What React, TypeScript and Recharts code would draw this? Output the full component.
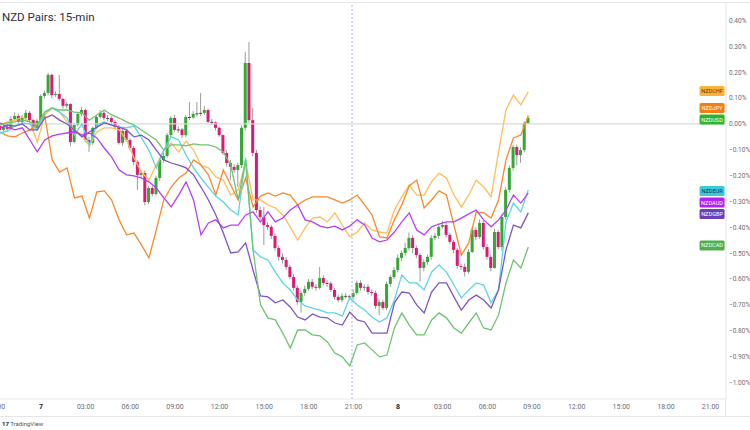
import React from 'react'
import {
  ComposedChart,
  Bar,
  Line,
  XAxis,
  YAxis,
  ReferenceLine,
  ReferenceDot
} from 'recharts'

// NZDUSD main series, % change, 15-min bars 21:15 (6th) .. 08:45 (8th)
const usdFirstOpen = -0.008
const usdClose = [
  -0.023, -0.012, -0.019, 0.019, 0.031, 0.008, 0.023, 0.043, 0.015, -0.015,
  0.012, 0.108, 0.12, 0.19, 0.112, 0.116, 0.097, 0.07, 0.077, -0.07,
  -0.004, 0.039, 0.054, -0.062, -0.073, -0.015, 0.027, 0.043, 0.023, 0.023,
  0.008, -0.012, -0.073, -0.027, -0.062, -0.093, -0.147, -0.197, -0.19, -0.302,
  -0.248, -0.271, -0.209, -0.139, -0.124, -0.043, 0.023, -0.023, -0.021, -0.043,
  0.027, 0.025, 0.039, 0.041, 0.043, 0.054, 0.008, 0.006, -0.015, -0.043,
  -0.112, -0.151, -0.166, -0.178, -0.159, -0.015, 0.236, 0.015, -0.112, -0.333,
  -0.36, -0.391, -0.398, -0.433, -0.48, -0.514, -0.526, -0.553, -0.592, -0.634,
  -0.689, -0.654, -0.638, -0.611, -0.63, -0.634, -0.596, -0.615, -0.617, -0.642,
  -0.669, -0.681, -0.665, -0.667, -0.669, -0.654, -0.615, -0.634, -0.63, -0.65,
  -0.654, -0.704, -0.689, -0.712, -0.619, -0.592, -0.565, -0.518, -0.499, -0.48,
  -0.441, -0.48, -0.507, -0.557, -0.534, -0.514, -0.441, -0.433, -0.398, -0.391,
  -0.429, -0.456, -0.487, -0.549, -0.553, -0.572, -0.495, -0.41, -0.437, -0.383,
  -0.476, -0.514, -0.557, -0.418, -0.476, -0.36, -0.255, -0.17, -0.089, -0.12,
  -0.101, 0.004, 0.023
]
const usdHigh = [
  0, 0, 0, 0.03, 0.045, 0.04, 0.035, 0.055, 0.05, 0.02,
  0.02, 0.115, 0.13, 0.198, 0.195, 0.125, 0.19, 0.1, 0.085, 0.08,
  0.005, 0.045, 0.065, 0.06, -0.05, -0.01, 0.035, 0.054, 0.05, 0.035,
  0.03, 0.015, -0.005, -0.02, -0.02, -0.055, -0.085, -0.14, -0.18, -0.18,
  -0.24, -0.24, -0.2, -0.13, -0.11, -0.035, 0.03, 0.035, -0.01, -0.015,
  0.035, 0.085, 0.05, 0.085, 0.12, 0.07, 0.06, 0.02, 0.01, -0.01,
  -0.04, -0.1, -0.14, -0.155, -0.15, -0.005, 0.278, 0.317, 0.062, -0.1,
  -0.32, -0.321, -0.38, -0.39, -0.425, -0.47, -0.5, -0.515, -0.545, -0.58,
  -0.625, -0.645, -0.625, -0.6, -0.6, -0.62, -0.553, -0.585, -0.605, -0.61,
  -0.635, -0.66, -0.655, -0.655, -0.66, -0.64, -0.605, -0.605, -0.62, -0.62,
  -0.64, -0.645, -0.68, -0.68, -0.61, -0.585, -0.555, -0.505, -0.49, -0.46,
  -0.42, -0.43, -0.47, -0.5, -0.525, -0.505, -0.43, -0.42, -0.385, -0.375,
  -0.38, -0.42, -0.45, -0.48, -0.54, -0.54, -0.485, -0.4, -0.4, -0.37,
  -0.375, -0.465, -0.505, -0.405, -0.41, -0.35, -0.245, -0.16, -0.08, -0.08,
  -0.09, 0.01, 0.035
]
const usdLow = [
  -0.035, -0.03, -0.03, -0.025, 0.01, 0, 0, 0.015, 0.005, -0.03,
  -0.025, 0.005, 0.1, 0.11, 0.1, 0.105, 0.09, 0.06, 0.06, -0.085,
  -0.075, -0.01, 0.03, -0.07, -0.108, -0.08, -0.02, 0.02, 0.015, 0.01,
  0, -0.02, -0.08, -0.085, -0.07, -0.1, -0.16, -0.255, -0.21, -0.315,
  -0.31, -0.28, -0.28, -0.22, -0.15, -0.13, -0.05, -0.03, -0.035, -0.055,
  -0.05, 0.015, 0.02, 0.03, 0.03, 0.035, 0, -0.005, -0.025, -0.05,
  -0.12, -0.165, -0.217, -0.19, -0.244, -0.17, -0.025, 0.005, -0.125, -0.345,
  -0.37, -0.468, -0.41, -0.445, -0.49, -0.53, -0.54, -0.565, -0.6, -0.645,
  -0.7, -0.73, -0.665, -0.645, -0.64, -0.645, -0.64, -0.625, -0.63, -0.65,
  -0.68, -0.69, -0.69, -0.675, -0.68, -0.68, -0.66, -0.645, -0.645, -0.66,
  -0.665, -0.715, -0.74, -0.72, -0.72, -0.63, -0.6, -0.575, -0.53, -0.51,
  -0.49, -0.5, -0.52, -0.61, -0.57, -0.545, -0.525, -0.45, -0.445, -0.405,
  -0.44, -0.465, -0.5, -0.56, -0.565, -0.59, -0.58, -0.5, -0.45, -0.445,
  -0.485, -0.525, -0.57, -0.56, -0.485, -0.49, -0.37, -0.265, -0.18, -0.16,
  -0.15, -0.11, 0
]

// compare symbols, read every second bar (30 min)
const nzdchf = [
  -0.004, 0.008, 0.015, 0.027, 0.008, -0.07, 0.035, 0.062, 0.046, 0.008,
  -0.023, -0.043, -0.085, -0.031, -0.015, -0.015, -0.023, -0.062, -0.132, -0.186,
  -0.217, -0.159, -0.101, -0.073, -0.108, -0.066, -0.101, -0.159, -0.17, -0.205,
  -0.217, -0.275, -0.255, -0.147, -0.294, -0.294, -0.313, -0.325, -0.352, -0.398,
  -0.449, -0.402, -0.364, -0.36, -0.379, -0.344, -0.391, -0.437, -0.418, -0.383,
  -0.41, -0.418, -0.422, -0.333, -0.282, -0.236, -0.275, -0.275, -0.224, -0.19,
  -0.209, -0.275, -0.321, -0.275, -0.217, -0.244, -0.282, -0.108, 0.054, 0.112,
  0.074, 0.124
]
const nzdjpy = [
  -0.031, -0.046, -0.05, -0.035, -0.023, -0.004, 0.031, -0.139, -0.186, -0.17,
  -0.286, -0.279, -0.364, -0.263, -0.259, -0.294, -0.371, -0.429, -0.422, -0.468,
  -0.518, -0.41, -0.294, -0.244, -0.209, -0.19, -0.139, -0.159, -0.197, -0.275,
  -0.178, -0.236, -0.294, -0.209, -0.321, -0.279, -0.267, -0.279, -0.267, -0.275,
  -0.313, -0.294, -0.282, -0.282, -0.282, -0.294, -0.306, -0.294, -0.275, -0.313,
  -0.352, -0.437, -0.441, -0.371, -0.313, -0.24, -0.217, -0.325, -0.294, -0.259,
  -0.275, -0.391, -0.507, -0.46, -0.34, -0.344, -0.364, -0.294, -0.139, -0.054,
  -0.043, 0.03
]
const nzdeur = [
  -0.035, -0.027, -0.008, 0.004, 0, -0.023, 0.046, 0.062, 0.046, 0.023,
  -0.043, 0, -0.081, -0.004, 0.008, -0.004, -0.012, -0.015, -0.008, -0.054,
  -0.101, -0.17, -0.101, -0.05, -0.062, -0.12, -0.17, -0.209, -0.244, -0.279,
  -0.302, -0.333, -0.352, -0.132, -0.487, -0.514, -0.526, -0.573, -0.615, -0.642,
  -0.681, -0.704, -0.712, -0.72, -0.731, -0.731, -0.743, -0.673, -0.7, -0.72,
  -0.747, -0.766, -0.75, -0.681, -0.584, -0.615, -0.615, -0.642, -0.573, -0.545,
  -0.573, -0.623, -0.673, -0.642, -0.615, -0.623, -0.692, -0.642, -0.379, -0.306,
  -0.34, -0.255
]
const nzdaud = [
  0.004, -0.012, -0.023, -0.015, -0.062, -0.108, -0.062, -0.046, -0.039, -0.035,
  -0.031, -0.043, -0.035, -0.054, -0.093, -0.128, -0.178, -0.197, -0.201, -0.209,
  -0.224, -0.248, -0.286, -0.321, -0.275, -0.224, -0.294, -0.429, -0.383, -0.371,
  -0.402, -0.391, -0.391, -0.352, -0.34, -0.379, -0.34, -0.379, -0.364, -0.333,
  -0.313, -0.371, -0.379, -0.395, -0.402, -0.395, -0.41, -0.395, -0.371, -0.391,
  -0.441, -0.456, -0.449, -0.418, -0.379, -0.344, -0.41, -0.429, -0.398, -0.387,
  -0.379, -0.379, -0.364, -0.348, -0.333, -0.371, -0.398, -0.371, -0.333, -0.275,
  -0.306, -0.267
]
const nzdgbp = [
  -0.015, -0.004, -0.008, 0, -0.023, -0.023, 0.023, 0.035, 0.015, 0,
  -0.023, -0.05, -0.031, -0.012, 0.004, -0.004, -0.012, -0.023, -0.05, -0.043,
  -0.062, -0.101, -0.139, -0.151, -0.159, -0.17, -0.197, -0.244, -0.294, -0.352,
  -0.422, -0.499, -0.495, -0.46, -0.565, -0.665, -0.669, -0.692, -0.681, -0.708,
  -0.747, -0.758, -0.735, -0.747, -0.75, -0.77, -0.778, -0.728, -0.758, -0.766,
  -0.809, -0.809, -0.809, -0.692, -0.65, -0.654, -0.7, -0.731, -0.65, -0.615,
  -0.615, -0.669, -0.72, -0.681, -0.662, -0.681, -0.712, -0.642, -0.487, -0.391,
  -0.402, -0.344
]
const nzdcad = [
  -0.004, 0.004, 0.008, 0.015, 0.008, -0.004, 0.046, 0.062, 0.054, 0.054,
  0.046, 0.043, 0.015, 0.035, 0.054, 0.035, 0.023, 0.008, -0.004, -0.023,
  -0.043, -0.062, -0.101, -0.081, -0.081, -0.085, -0.077, -0.081, -0.081, -0.089,
  -0.108, -0.159, -0.294, -0.139, -0.487, -0.7, -0.75, -0.758, -0.809, -0.867,
  -0.797, -0.797, -0.816, -0.82, -0.843, -0.886, -0.901, -0.936, -0.855, -0.847,
  -0.874, -0.901, -0.894, -0.789, -0.731, -0.778, -0.816, -0.816, -0.758, -0.731,
  -0.75, -0.789, -0.809, -0.77, -0.731, -0.789, -0.797, -0.739, -0.615, -0.526,
  -0.557, -0.476
]

const xTicks = [-1, 11, 23, 35, 47, 59, 71, 83, 95, 107, 119, 131, 143, 155, 167, 179, 191]
const xTickLabels = ['21:00', '7', '03:00', '06:00', '09:00', '12:00', '15:00', '18:00', '21:00',
  '8', '03:00', '06:00', '09:00', '12:00', '15:00', '18:00', '21:00']
const yTicks = [0.4, 0.3, 0.2, 0.1, 0, -0.1, -0.2, -0.3, -0.4, -0.5, -0.6, -0.7, -0.8, -0.9, -1.0]

const tagNames = ['NZDCHF', 'NZDJPY', 'NZDUSD', 'NZDEUR', 'NZDAUD', 'NZDGBP', 'NZDCAD']
const tagValues = [0.128, 0.062, 0.017, -0.259, -0.304, -0.348, -0.47]

const seriesKeys = ['chf', 'jpy', 'eur', 'aud', 'gbp', 'cad']
const seriesData = [nzdchf, nzdjpy, nzdeur, nzdaud, nzdgbp, nzdcad]
const lineColors = ['#ffbd59', '#f7892b', '#5dd3e3', '#b53ff2', '#7d55c4', '#6fc46f']
const tagColors = ['#fbb23a', '#f57d12', '#2cb52c', '#3fc8d9', '#b022f0', '#6a40b8', '#4caf50']
const tagText = ['#5a3b00', '#ffffff', '#ffffff', '#06383f', '#ffffff', '#ffffff', '#ffffff']

const data = usdClose.map((c, i) => {
  const row: any = {
    i,
    o: i === 0 ? usdFirstOpen : usdClose[i - 1],
    c,
    h: usdHigh[i],
    l: usdLow[i]
  }
  seriesKeys.forEach((k, s) => {
    row[k] = i % 2 === 0 ? seriesData[s][i / 2] : null
  })
  return row
})

const fmtPct = (v: number) => (v < 0 ? '\u2212' : '') + Math.abs(v).toFixed(2) + '%'

const Candle = (props: any) => {
  const { x, y, width, height, payload } = props
  if (!payload || x == null) return null
  const { o, c, h, l } = payload
  const cx = x + width / 2
  const top = Math.min(y, y + height)
  const span = Math.abs(height)
  const k = h > l ? span / (h - l) : 0
  const py = (v: number) => top + (h - v) * k
  const bodyTop = py(Math.max(o, c))
  const bodyH = Math.max(1, py(Math.min(o, c)) - bodyTop)
  const doji = Math.abs(c - o) < 0.004
  const color = doji ? '#4a4a4a' : c >= o ? '#33a833' : '#dc1a73'
  return (
    <g>
      <line x1={cx} x2={cx} y1={top} y2={top + span} stroke="#9b9b9b" strokeWidth={1} />
      <rect x={cx - 1.5} y={bodyTop} width={3} height={bodyH} fill={color} />
    </g>
  )
}

const XTick = (props: any) => {
  const { x, y, index } = props
  const label = xTickLabels[index]
  const day = label.length === 1
  return (
    <text x={x} y={y} dy={5} textAnchor="middle" fontSize={7} fontFamily="Roboto, sans-serif"
      fill={day ? '#222' : '#6a6d78'} fontWeight={day ? 700 : 400}>
      {label}
    </text>
  )
}

const Tag = (idx: number) => (props: any) => {
  const { cx, cy } = props
  if (cx == null) return null
  return (
    <g>
      <rect x={cx - 12.5} y={cy - 5} width={25} height={10} rx={1.5} fill={tagColors[idx]} />
      <text x={cx} y={cy + 2} textAnchor="middle" fontSize={5.6} fontFamily="Roboto, sans-serif"
        fill={tagText[idx]}>
        {tagNames[idx]}
      </text>
    </g>
  )
}

export default function App() {
  return (
    <div style={{ position: 'absolute', left: 0, top: 0, width: 750, height: 430, background: '#fff' }}>
      <ComposedChart width={750} height={430} data={data}
        margin={{ top: 3, right: 0, left: 0, bottom: 0 }}>
        <XAxis dataKey="i" type="number" domain={[-0.03, 195.15]} allowDataOverflow
          ticks={xTicks} interval={0} tick={<XTick />} tickLine={false} tickSize={0} tickMargin={5}
          height={31} axisLine={{ stroke: '#e3e5ea' }} />
        <YAxis orientation="right" type="number" domain={[-1.064, 0.468]} allowDataOverflow
          ticks={yTicks} tickFormatter={fmtPct} width={24} tickLine={false} tickSize={0} tickMargin={3}
          axisLine={{ stroke: '#e3e5ea' }}
          tick={{ fontSize: 6.5, fill: '#6a6d78', fontFamily: 'Roboto, sans-serif' }} />
        <ReferenceLine y={0} stroke="#d9d9d9" strokeWidth={1.2} />
        <ReferenceLine x={94.6} stroke="#a4b5ee" strokeDasharray="2 2" />
        <Bar dataKey={(d: any) => [d.l, d.h]} barSize={3} isAnimationActive={false}
          shape={(p: any) => <Candle {...p} />} />
        {seriesKeys.map((k, s) => (
          <Line key={k} dataKey={k} type="linear" stroke={lineColors[s]} strokeWidth={1.3}
            dot={false} connectNulls isAnimationActive={false} />
        ))}
        {tagNames.map((n, t) => (
          <ReferenceDot key={n} x={191.4} y={tagValues[t]} r={0} shape={Tag(t)} />
        ))}
      </ComposedChart>
      <div style={{ position: 'absolute', left: 2, top: 10, fontFamily: 'Roboto, sans-serif',
        fontSize: 11.5, color: '#2a2e39' }}>NZD Pairs: 15-min</div>
      <div style={{ position: 'absolute', left: 0, top: 2, width: 750, height: 1, background: '#e3e5ea' }} />
      <div style={{ position: 'absolute', left: 0, top: 416, width: 750, height: 1, background: '#e3e5ea' }} />
      <div style={{ position: 'absolute', left: 725, top: 399, width: 1, height: 17, background: '#e3e5ea' }} />
      <div style={{ position: 'absolute', left: 2, top: 420, fontFamily: 'Roboto, sans-serif',
        fontSize: 6, color: '#555', whiteSpace: 'nowrap' }}>
        <b style={{ color: '#131722' }}>17</b> TradingView
      </div>
    </div>
  )
}
